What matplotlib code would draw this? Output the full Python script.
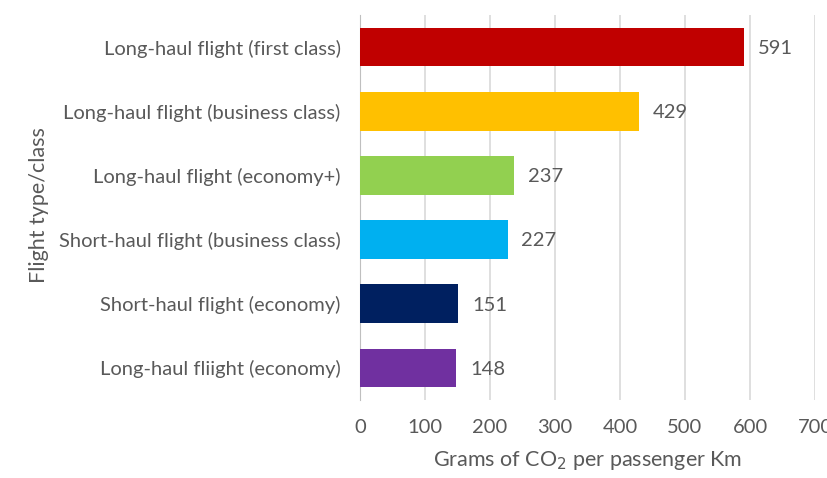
import matplotlib
matplotlib.use('Agg')
import matplotlib.pyplot as plt

categories = [
    "Long-haul flight (first class)",
    "Long-haul flight (business class)",
    "Long-haul flight (economy+)",
    "Short-haul flight (business class)",
    "Short-haul flight (economy)",
    "Long-haul fliight (economy)",
]
values = [591, 429, 237, 227, 151, 148]
colors = ["#C00000", "#FFC000", "#92D050", "#00B0F0", "#002060", "#7030A0"]
xticks = [0, 100, 200, 300, 400, 500, 600, 700]

plt.rcParams['font.family'] = ['Lato', 'DejaVu Sans']
text_color = "#595959"

fig = plt.figure(figsize=(8.27, 4.78), dpi=100)
ax = fig.add_axes([0.4353, 0.1632, 0.5502, 0.8054])

ypos = list(range(len(categories)))[::-1]
ax.barh(ypos, values, height=0.6, color=colors, zorder=3)

for y, v in zip(ypos, values):
    ax.annotate(str(v), (v, y), xytext=(10, -1), textcoords='offset points',
                va='center', ha='left', fontsize=14.5, color=text_color)

ax.set_xlim(0, 700)
ax.set_ylim(-0.5, len(categories) - 0.5)
ax.set_xticks(xticks)
ax.set_yticks(ypos)
ax.set_yticklabels(categories)
ax.tick_params(axis='both', length=0, labelsize=14.5, colors=text_color)
ax.tick_params(axis='x', pad=14)
ax.tick_params(axis='y', pad=14)

ax.grid(axis='x', color='#D9D9D9', linewidth=1.2, zorder=0)
for s in ['top', 'right', 'bottom']:
    ax.spines[s].set_visible(False)
ax.spines['left'].set_color('#BFBFBF')

ax.set_xlabel("Grams of CO$_2$ per passenger Km", fontsize=15.5, color=text_color, labelpad=9)
ax.set_ylabel("Flight type/class", fontsize=15.5, color=text_color)
ax.yaxis.set_label_coords(-0.684, 0.506)

fig.savefig("out.png", dpi=100)
